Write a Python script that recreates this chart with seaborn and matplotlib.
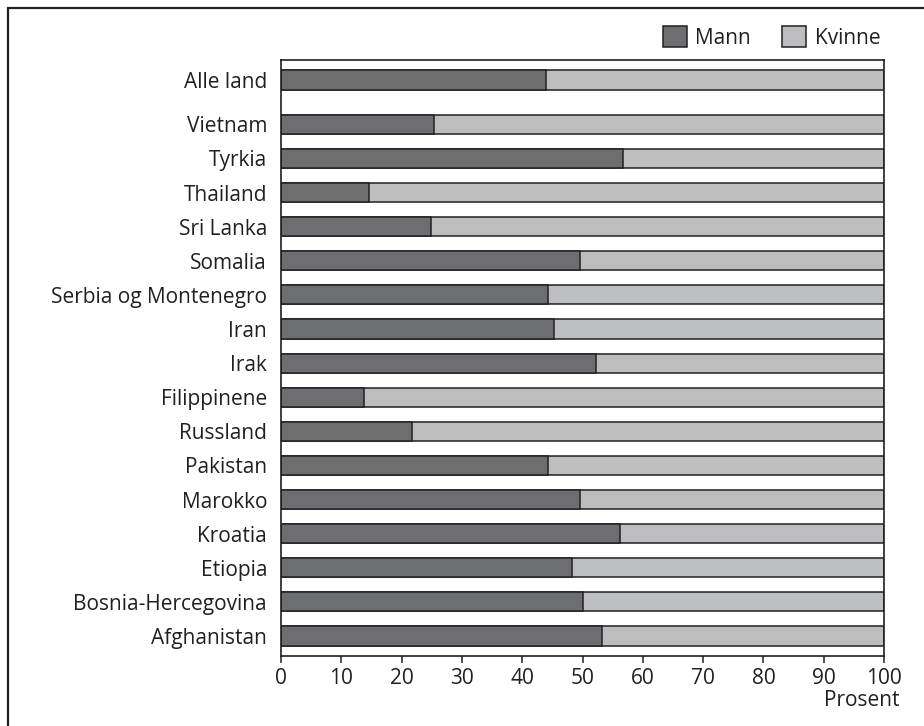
import pandas as pd
import seaborn as sns
import matplotlib.pyplot as plt
from matplotlib.patches import Patch, Rectangle

sns.set_theme(style='white')
plt.rcParams['font.family'] = ['Open Sans', 'DejaVu Sans']

countries = ['Afghanistan', 'Bosnia-Hercegovina', 'Etiopia', 'Kroatia', 'Marokko',
             'Pakistan', 'Russland', 'Filippinene', 'Irak', 'Iran',
             'Serbia og Montenegro', 'Somalia', 'Sri Lanka', 'Thailand', 'Tyrkia',
             'Vietnam', 'Alle land']
# row positions (gap before "Alle land")
pos = [0, 1, 2, 3, 4, 5, 6, 7, 8, 9, 10, 11, 12, 13, 14, 15, 16.3]
mann = [53.2, 50.0, 48.3, 56.2, 49.6, 44.3, 21.8, 13.8, 52.2, 45.2,
        44.3, 49.6, 24.9, 14.6, 56.7, 25.3, 43.9]
kvinne = [46.8, 50.0, 51.7, 43.8, 50.4, 55.7, 78.2, 86.2, 47.8, 54.8,
          55.7, 50.4, 75.1, 85.4, 43.3, 74.7, 56.1]

df = pd.DataFrame({'land': countries, 'pos': pos, 'mann': mann, 'kvinne': kvinne})
df['total'] = df['mann'] + df['kvinne']

c_mann = '#6d6e71'
c_kvinne = '#bcbec0'
edge = '#231f20'
fs = 15

fig = plt.figure(figsize=(9.24, 7.26), dpi=100)
ax = fig.add_axes([281 / 924, 1 - 656 / 726, (884 - 281) / 924, (656 - 60) / 726])

sns.barplot(data=df, x='total', y='pos', orient='h', native_scale=True,
            color=c_kvinne, saturation=1, width=0.56, edgecolor=edge,
            linewidth=1.1, ax=ax)
sns.barplot(data=df, x='mann', y='pos', orient='h', native_scale=True,
            color=c_mann, saturation=1, width=0.56, edgecolor=edge,
            linewidth=1.1, ax=ax)

ax.set_xlim(0, 100)
ax.set_ylim(-0.587, 16.3 + 0.587)
ax.set_xticks(range(0, 101, 10))
ax.set_yticks(pos, countries)
ax.set_xlabel('')
ax.set_ylabel('')
ax.tick_params(axis='x', bottom=True, length=5, width=1.1, color=edge,
               labelsize=fs, pad=4, labelcolor='#231f20')
ax.tick_params(axis='y', left=False, labelsize=fs, pad=4, labelcolor='#231f20')
for s in ax.spines.values():
    s.set_color(edge)
    s.set_linewidth(1.2)

ax.annotate('Prosent', xy=(1, 0), xycoords='axes fraction',
            xytext=(15, -44), textcoords='offset pixels',
            ha='right', va='center', fontsize=fs, color='#231f20')

handles = [Patch(facecolor=c_mann, edgecolor=edge, linewidth=1.1, label='Mann'),
           Patch(facecolor=c_kvinne, edgecolor=edge, linewidth=1.1, label='Kvinne')]
ax.legend(handles=handles, loc='lower right', bbox_to_anchor=(1.013, 1.0),
          ncol=2, frameon=False, fontsize=fs, handlelength=1.15, handleheight=1.15,
          handletextpad=0.4, columnspacing=1.5, borderaxespad=0.35,
          borderpad=0.2, labelcolor='#231f20')

fig.patches.append(Rectangle((8 / 924, -0.1), 1.2, 1.1 - 8 / 726,
                             transform=fig.transFigure, fill=False,
                             edgecolor=edge, linewidth=1.6, clip_on=False))

fig.savefig('out.png', dpi=100)
